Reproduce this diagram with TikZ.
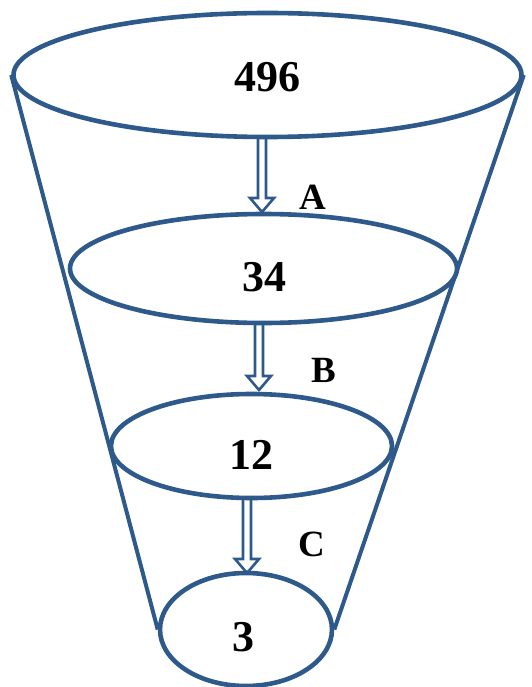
\documentclass[tikz,border=0pt]{standalone}
\usepackage{fontspec}
\setmainfont{Liberation Serif}
\usetikzlibrary{shapes.geometric,calc,backgrounds}
\definecolor{funnel}{RGB}{46,89,139}
\tikzset{
  ring/.style={ellipse, draw=funnel, line width=4.6pt, fill=white, inner sep=0pt},
  side/.style={draw=funnel, line width=4pt},
  arrowline/.style={draw=funnel, line width=2.6pt, line join=miter},
  num/.style={font=\bfseries\fontsize{44}{44}\selectfont, inner sep=0pt},
  lab/.style={font=\bfseries\fontsize{37}{37}\selectfont, inner sep=0pt},
}
\newcommand\hollowarrow[2]{%
  \draw[arrowline] ($(#1)+(-4,0)$) -- ($(#2)+(-4,-14)$) -- ($(#2)+(-12,-14)$) -- (#2)
    -- ($(#2)+(12,-14)$) -- ($(#2)+(4,-14)$) -- ($(#1)+(4,0)$);}
\begin{document}
\begin{tikzpicture}[x=1pt,y=-1pt]
\useasboundingbox (0,0) rectangle (531,687);
\node[ring, minimum width=508pt, minimum height=124pt] (e1) at (267.5,75) {};
\node[ring, minimum width=387pt, minimum height=109pt] (e2) at (263.5,268.5) {};
\node[ring, minimum width=281pt, minimum height=104pt] (e3) at (251.5,446) {};
\node[ring, minimum width=172pt, minimum height=113pt] (e4) at (246,629.5) {};
\begin{scope}[on background layer]
  \draw[side] (e1.west) -- (e4.west);
  \draw[side] (e1.east) -- (e4.east);
\end{scope}
\node[num] (t1) at (267,77.5) {496};
\node[num] (t2) at (264,277) {34};
\node[num] (t3) at (251,454.5) {12};
\node[num] (t4) at (243,637.5) {3};
\coordinate (a1s) at (262,139);
\coordinate (a1e) at (262,212);
\coordinate (a2s) at (259,322);
\coordinate (a2e) at (259,390);
\coordinate (a3s) at (247,500);
\coordinate (a3e) at (247,573);
\hollowarrow{a1s}{a1e}
\hollowarrow{a2s}{a2e}
\hollowarrow{a3s}{a3e}
\node[lab] (la) at (313,197.5) {A};
\node[lab] (lb) at (324,370) {B};
\node[lab] (lc) at (312,544) {C};
\end{tikzpicture}
\end{document}
